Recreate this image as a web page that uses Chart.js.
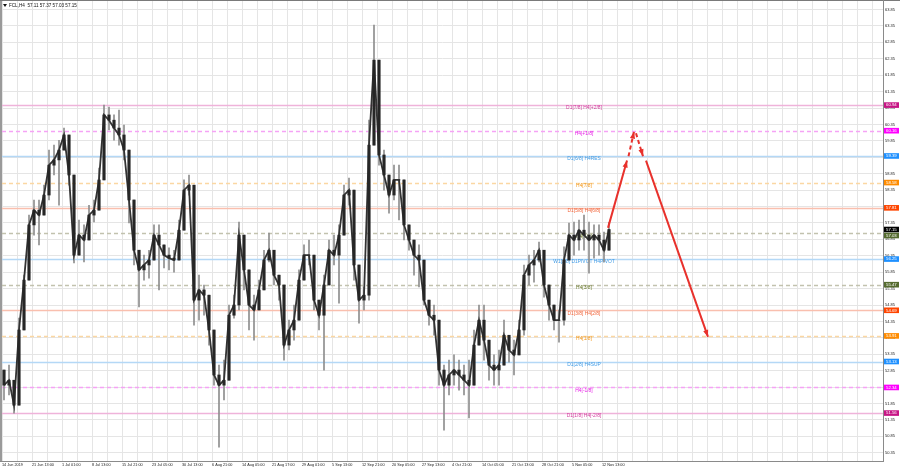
<!DOCTYPE html>
<html><head><meta charset="utf-8">
<script src="https://cdn.jsdelivr.net/npm/chart.js@4/dist/chart.umd.min.js"></script>
<style>html,body{margin:0;padding:0;background:#fff;overflow:hidden}canvas{display:block}</style>
</head><body><canvas id="c" width="900" height="470"></canvas>
<script>
// ---- data (FCL, H4) ----
const firstOpen = 52.87;
const closes = [52.41,52.56,51.80,54.09,55.61,57.29,57.74,57.59,58.20,59.11, 59.27,59.57,60.03,58.81,56.37,56.98,56.83,57.59,57.74,58.66, 60.64,60.48,60.24,60.03,59.57,58.05,56.52,55.92,56.07,56.22, 56.98,56.68,56.37,56.28,56.22,57.13,58.35,58.50,55.00,55.31, 55.15,54.09,52.72,52.41,52.56,54.54,54.85,56.98,55.92,54.85, 54.70,55.31,56.22,56.52,55.76,55.46,53.63,54.09,54.39,55.61, 56.37,56.37,55.00,54.54,55.46,56.52,56.37,56.98,58.20,58.35, 56.07,55.00,55.15,59.72,62.31,59.42,58.81,58.20,58.66,58.66, 57.29,56.83,56.37,56.22,55.00,54.54,54.39,52.87,52.41,52.72, 52.87,52.72,52.56,52.41,53.63,54.39,53.78,53.02,52.87,53.02, 53.93,53.48,53.33,54.09,55.76,56.07,56.22,56.52,55.46,54.85, 54.39,54.39,56.22,56.98,56.83,57.13,56.98,56.83,56.98,56.83, 56.52,57.15];
const highs = [52.87,53.02,52.41,54.45,55.76,57.59,58.05,58.05,58.50,59.57, 59.72,59.87,60.24,59.57,58.05,57.44,57.29,57.89,58.05,59.02, 60.94,60.88,60.64,60.79,60.33,59.57,57.74,56.37,56.37,56.52, 57.29,57.29,56.68,56.59,56.52,57.44,58.66,58.81,57.89,55.76, 55.46,55.00,53.48,53.02,53.17,54.85,55.15,57.38,56.83,55.31, 55.15,55.61,56.52,57.04,56.22,55.76,55.00,54.39,54.85,55.92, 56.68,56.83,55.46,55.00,55.76,56.83,56.98,57.29,58.50,58.72, 58.05,55.92,55.40,60.48,63.38,61.85,59.57,58.81,59.11,59.11, 58.66,57.13,56.83,56.68,56.22,55.00,54.85,54.09,53.02,53.17, 53.33,53.17,53.02,53.17,54.09,54.85,54.85,53.63,53.33,53.48, 54.39,53.93,53.78,54.39,56.07,56.37,56.52,56.77,56.22,55.31, 54.85,54.70,56.62,57.35,57.38,57.44,57.59,57.38,57.29,57.29, 57.07,57.37];
const lows = [51.96,52.11,51.56,53.02,54.39,56.37,56.98,56.68,57.59,58.05, 58.81,57.89,59.57,58.50,56.13,56.37,56.16,57.19,57.38,58.20, 60.03,60.18,59.87,59.72,59.27,57.35,56.07,54.79,55.61,55.67, 56.37,55.31,55.98,55.92,55.85,56.52,57.59,58.20,54.24,54.39, 54.54,53.63,52.41,50.52,51.96,52.56,54.45,54.70,55.31,54.09, 53.78,54.85,55.76,56.16,55.46,55.00,53.17,53.48,53.78,55.00, 55.92,56.07,54.70,54.09,52.87,56.07,56.07,54.91,57.59,57.89, 55.61,54.30,54.70,55.00,61.09,59.11,58.35,57.65,58.05,57.44, 56.83,56.52,55.76,55.40,54.85,54.24,53.93,52.41,51.04,52.11, 52.41,52.26,52.11,51.41,52.87,53.93,53.17,52.56,52.41,52.41, 53.33,53.11,52.72,53.63,53.93,55.46,55.55,56.16,55.09,54.39, 54.09,53.72,54.24,56.28,56.37,56.52,56.52,55.82,56.28,56.37, 56.16,57.03];
const timeLabels = ['14 Jun 2019','21 Jun 13:00','1 Jul 01:00','8 Jul 13:00','15 Jul 21:00','23 Jul 05:00','30 Jul 13:00','6 Aug 21:00','14 Aug 05:00','21 Aug 17:00','29 Aug 01:00','5 Sep 13:00','12 Sep 21:00','20 Sep 05:00','27 Sep 13:00','4 Oct 21:00','14 Oct 05:00','21 Oct 13:00','28 Oct 21:00','5 Nov 05:00','12 Nov 13:00'];
const priceTicks = [50.35,50.85,51.35,51.85,52.35,52.85,53.35,53.85,54.35,54.85,55.35,55.85,56.35,56.85,57.35,57.85,58.35,58.85,59.35,59.85,60.35,60.85,61.35,61.85,62.35,62.85,63.35,63.85];
const levelValues = [60.94,60.16,59.39,58.58,57.81,57.03,56.25,55.47,54.69,53.91,53.13,52.34,51.56];
const levelNames = ['D1[7/8] H4[+2/8]','H4[+1/8]','D1[6/8] H4RES','H4[7/8]','D1[5/8] H4[6/8]','H4[5/8]','W1[3/8] D1PIVOT H4PIVOT','H4[3/8]','D1[3/8] H4[2/8]','H4[1/8]','D1[2/8] H4SUP','H4[-1/8]','D1[1/8] H4[-2/8]'];
const levelKinds = ['pink','magenta','blue','orange','salmon','olive','blue','olive','salmon','orange','blue','magenta','pink'];
const lastQuote = {symbol:'FCL,H4', open:57.11, high:57.37, low:57.03, close:57.15};
// forecast arrows
const arrowUp1 = [{x:120.8,y:57.20},{x:124.6,y:59.25}];
const arrowUp2 = [{x:124.9,y:59.38},{x:126.0,y:60.13}];
const arrowDn1 = [{x:126.4,y:60.08},{x:127.8,y:59.38}];
const arrowDn2 = [{x:128.4,y:59.25},{x:140.8,y:53.88}];

// ---- styles ----
const kindStyle = {
  pink:   {line:'#efb3da', text:'#d23c9c', mark:'#c71585', dash:[]},
  magenta:{line:'#f5a3f5', text:'#e61ee6', mark:'#ff00ff', dash:[4,3]},
  blue:   {line:'#b4d8f6', text:'#3f9be6', mark:'#1e90ff', dash:[]},
  orange: {line:'#fbd7a2', text:'#f3981a', mark:'#ff8c00', dash:[4,3]},
  salmon: {line:'#f9bfae', text:'#f2663c', mark:'#ff4500', dash:[]},
  olive:  {line:'#c2c2ae', text:'#6d7c2f', mark:'#556b2f', dash:[4,3]}
};
const FONT = "'Liberation Sans', Arial, sans-serif";

const opens = closes.map((c,i)=> i===0 ? firstOpen : closes[i-1]);
const bodyData = closes.map((c,i)=>({x:i, y:[opens[i], c]}));
const wickData = closes.map((c,i)=>({x:i, y:[Math.min(lows[i],opens[i],c), Math.max(highs[i],opens[i],c)]}));
const closeLine = closes.map((c,i)=>({x:i, y:c}));

const XMIN = -0.4, XMAX = -0.4 + 881/5;

const overlay = {
  id:'overlay',
  beforeDatasetsDraw(chart){
    const {ctx, chartArea:a, scales:{x,y}} = chart;
    ctx.save();
    levelValues.forEach((v,i)=>{
      const st = kindStyle[levelKinds[i]];
      const py = Math.round(y.getPixelForValue(v)) + 0.5;
      ctx.strokeStyle = st.line; ctx.lineWidth = 1.6; ctx.setLineDash(st.dash);
      ctx.beginPath(); ctx.moveTo(a.left, py); ctx.lineTo(a.right, py); ctx.stroke();
    });
    ctx.setLineDash([]);
    ctx.font = `4.9px ${FONT}`; ctx.textAlign='center'; ctx.textBaseline='middle';
    const cx = x.getPixelForValue(116);
    levelValues.forEach((v,i)=>{
      const st = kindStyle[levelKinds[i]];
      ctx.fillStyle = st.text;
      ctx.fillText(levelNames[i], cx, y.getPixelForValue(v)+3);
    });
    ctx.restore();
  },
  afterDatasetsDraw(chart){
    const {ctx} = chart;
    ctx.save();
    chart.data.datasets.forEach((ds,di)=>{
      if(!ds.arrow) return;
      const pts = chart.getDatasetMeta(di).data;
      const p1 = pts[pts.length-2], p2 = pts[pts.length-1];
      const ang = Math.atan2(p2.y-p1.y, p2.x-p1.x);
      const L=7, W=2.6;
      ctx.fillStyle = ds.borderColor;
      ctx.beginPath();
      ctx.moveTo(p2.x, p2.y);
      ctx.lineTo(p2.x - L*Math.cos(ang) + W*Math.sin(ang), p2.y - L*Math.sin(ang) - W*Math.cos(ang));
      ctx.lineTo(p2.x - L*Math.cos(ang) - W*Math.sin(ang), p2.y - L*Math.sin(ang) + W*Math.cos(ang));
      ctx.closePath(); ctx.fill();
    });
    ctx.restore();
  },
  afterDraw(chart){
    const {ctx, chartArea:a, scales:{y}} = chart;
    ctx.save();
    // frame
    ctx.fillStyle='#9a9a9a'; ctx.fillRect(0,0,2,a.bottom+1);
    ctx.fillStyle='#7a7a7a'; ctx.fillRect(0,0,900,1);
    ctx.fillStyle='#8a8a8a'; ctx.fillRect(a.right,0,1,a.bottom+1); ctx.fillRect(0,a.bottom,a.right,1);
    // axis markers
    const marks = levelValues.map((v,i)=>({v, c:kindStyle[levelKinds[i]].mark}));
    marks.push({v:lastQuote.close, c:'#000000'});
    marks.sort((p,q)=>q.v-p.v);
    let prev = -100;
    ctx.font = `4.3px ${FONT}`; ctx.textAlign='left'; ctx.textBaseline='middle';
    marks.forEach(m=>{
      let py = y.getPixelForValue(m.v);
      if (py < prev + 6) py = prev + 6;
      prev = py;
      ctx.fillStyle = m.c; ctx.fillRect(a.right+1, py-2.8, 15, 5.6);
      ctx.fillStyle = '#ffffff'; ctx.fillText(m.v.toFixed(2), a.right+3, py+0.2);
    });
    // title
    ctx.fillStyle='#111';
    ctx.beginPath(); ctx.moveTo(3,4); ctx.lineTo(7,4); ctx.lineTo(5,7); ctx.closePath(); ctx.fill();
    ctx.font = `4.6px ${FONT}`; ctx.textAlign='left'; ctx.textBaseline='middle';
    ctx.fillText(`${lastQuote.symbol}  ${lastQuote.open.toFixed(2)} ${lastQuote.high.toFixed(2)} ${lastQuote.low.toFixed(2)} ${lastQuote.close.toFixed(2)}`, 9, 5.5);
    ctx.restore();
  }
};

const arrowDs = (data, dash) => ({type:'line', data, borderColor:'#e8312c', borderWidth:2, borderDash:dash, pointRadius:0, arrow:true, order:0, tension:0});

new Chart(document.getElementById('c'), {
  type:'bar',
  data:{datasets:[
    {type:'bar', data:wickData, backgroundColor:'#8e8e8e', barThickness:1, grouped:false, order:4, borderWidth:0},
    {type:'line', data:closeLine, borderColor:'#333333', borderWidth:1.8, pointRadius:0, tension:0, order:3},
    {type:'bar', data:bodyData, backgroundColor:'#262626', barThickness:2.5, grouped:false, order:2, borderWidth:0},
    arrowDs(arrowUp1, []), arrowDs(arrowUp2, [4,3]), arrowDs(arrowDn1, [4,3]), arrowDs(arrowDn2, [])
  ]},
  options:{
    responsive:false, animation:false, events:[],
    layout:{padding:{left:2, top:1, right:0, bottom:0}},
    plugins:{legend:{display:false}, tooltip:{enabled:false}},
    scales:{
      x:{type:'linear', position:'bottom', min:XMIN, max:XMAX, offset:false,
         afterBuildTicks(s){ const t=[]; for(let k=0; XMIN+3*k<=XMAX; k++) t.push({value:XMIN+3*k}); s.ticks=t; },
         afterFit(s){ s.height = 9; s.paddingLeft = 0; s.paddingRight = 0; },
         grid:{color:'#e5e5e5', drawTicks:false, offset:false},
         border:{display:false},
         ticks:{autoSkip:false, maxRotation:0, align:'start', padding:2, color:'#222', font:{family:FONT, size:3.8},
           callback(v, idx){ return (idx%2===0 && timeLabels[idx/2]) ? timeLabels[idx/2] : ''; }}
      },
      y:{type:'linear', position:'right', min:50.10, max:64.11,
         afterBuildTicks(s){ s.ticks = priceTicks.map(v=>({value:v})); },
         afterFit(s){ s.width = 17; s.paddingTop = 0; s.paddingBottom = 0; },
         grid:{color:'#e5e5e5', drawTicks:false},
         border:{display:false},
         ticks:{autoSkip:false, padding:2, color:'#222', font:{family:FONT, size:4}, callback(v){ return v.toFixed(2); }}
      }
    }
  },
  plugins:[overlay]
});
</script></body></html>
